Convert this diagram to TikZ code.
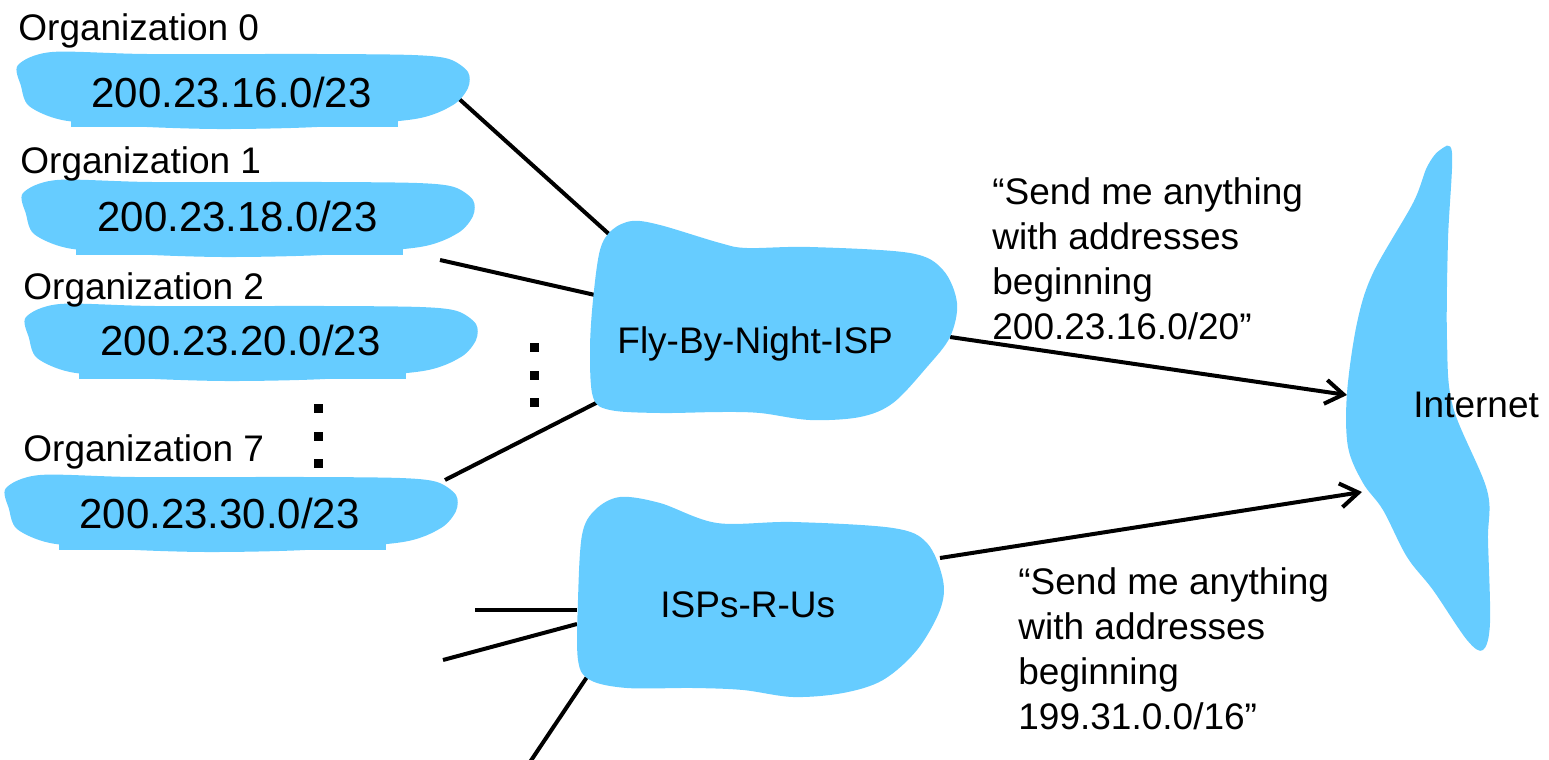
\documentclass[tikz,border=0pt]{standalone}
\usepackage{fontspec}
\setmainfont{Liberation Sans}
\usetikzlibrary{arrows.meta}
\definecolor{blobblue}{RGB}{102,204,255}
\begin{document}
\begin{tikzpicture}[x=0.5pt,y=-0.5pt,
  link/.style={line width=2pt,black},
  arr/.style={link,-{Straight Barb[length=9pt,width=12pt]}},
  lbl/.style={font=\fontsize{18.5pt}{22.5pt}\selectfont,inner sep=0pt},
  addr/.style={font=\fontsize{21pt}{25pt}\selectfont,inner sep=0pt},
  sqdot/.style={fill=black,rectangle,minimum size=4.5pt,inner sep=0pt},
  orgblob/.pic={
    \fill[blobblue] plot[smooth cycle,tension=0.5] coordinates {
      (1,15) (35,2) (130,4) (300,4) (395,5) (432,9) (451,22) (451,38)
      (436,55) (398,69) (300,77) (200,79) (110,76) (45,70)
      (12,56) (4,36)};
    \fill[blobblue] (54,60) rectangle (381,77);
  }]
\path[use as bounding box] (0,0) rectangle (1549,760);

% Internet cloud
\fill[blobblue] plot[smooth cycle,tension=0.55] coordinates {
  (1440,150) (1452,153) (1448,240) (1447,340) (1453,407) (1487,490)
  (1488,540) (1490,623) (1483,650) (1467,640) (1433,590) (1407,557)
  (1383,510) (1363,483) (1348,447) (1347,393) (1357,323) (1373,273)
  (1413,203) (1427,167)};

% connector end points
\coordinate (o0) at (457,97);
\coordinate (f0) at (610,235);
\coordinate (o1) at (440,260);
\coordinate (f1) at (595,295);
\coordinate (o7) at (445,480);
\coordinate (f7) at (598,402);
\coordinate (fo) at (950,337);
\coordinate (ia) at (1347,395);
\coordinate (io) at (940,558);
\coordinate (ib) at (1362,492);
\coordinate (s1a) at (475,610);
\coordinate (s1b) at (577,610);
\coordinate (s2a) at (443,660);
\coordinate (s2b) at (577,624);
\coordinate (s3a) at (587,677);
\coordinate (s3b) at (530,762);

\draw[link] (o0) -- (f0);
\draw[link] (o1) -- (f1);
\draw[link] (o7) -- (f7);
\draw[link] (s1a) -- (s1b);
\draw[link] (s2a) -- (s2b);
\draw[link] (s3b) -- (s3a);
\draw[arr] (fo) -- (ia);
\draw[arr] (io) -- (ib);

% ISP clouds
\fill[blobblue] plot[smooth cycle,tension=0.55] coordinates {
  (612,230) (632,221) (660,225) (720,243) (747,248) (810,247) (910,253)
  (943,270) (957,303) (950,337) (927,367) (893,403) (860,417) (810,420)
  (760,413) (720,412) (660,413) (610,410) (593,397) (590,350) (593,300)
  (600,250)};
\fill[blobblue] plot[smooth cycle,tension=0.55] coordinates {
  (595,510) (620,497) (660,503) (717,523) (793,522) (893,528) (927,543)
  (943,580) (940,610) (917,650) (883,680) (843,693) (793,697) (743,690)
  (693,688) (627,688) (590,680) (578,660) (578,600) (582,535)};

% organization blobs
\pic at (17,50) {orgblob};
\pic at (22,178) {orgblob};
\pic at (25,302) {orgblob};
\pic at (5,473) {orgblob};

% texts
\node[lbl,anchor=base west] (l0) at (18,40) {Organization 0};
\node[lbl,anchor=base west] (l1) at (20,173) {Organization 1};
\node[lbl,anchor=base west] (l2) at (23,299) {Organization 2};
\node[lbl,anchor=base west] (l7) at (23,461) {Organization 7};
\node[addr,anchor=base west] (a0) at (91,107) {200.23.16.0/23};
\node[addr,anchor=base west] (a1) at (97,231) {200.23.18.0/23};
\node[addr,anchor=base west] (a2) at (100,355) {200.23.20.0/23};
\node[addr,anchor=base west] (a7) at (79,528) {200.23.30.0/23};
\node[lbl,anchor=base west] (fly) at (617,353) {Fly-By-Night-ISP};
\node[lbl,anchor=base west] (rus) at (660,617) {ISPs-R-Us};
\node[lbl,anchor=base west] (inet) at (1413,417) {Internet};
\node[lbl,anchor=north west,align=left] (m1) at (992,177)
  {“Send me anything\\with addresses\\beginning\\200.23.16.0/20”};
\node[lbl,anchor=north west,align=left] (m2) at (1018,567)
  {“Send me anything\\with addresses\\beginning\\199.31.0.0/16”};

% dots
\node[sqdot] (d1) at (534,347) {};
\node[sqdot] (d2) at (534,375) {};
\node[sqdot] (d3) at (534,402) {};
\node[sqdot] (d4) at (318,408) {};
\node[sqdot] (d5) at (318,436) {};
\node[sqdot] (d6) at (318,463) {};
\end{tikzpicture}
\end{document}
